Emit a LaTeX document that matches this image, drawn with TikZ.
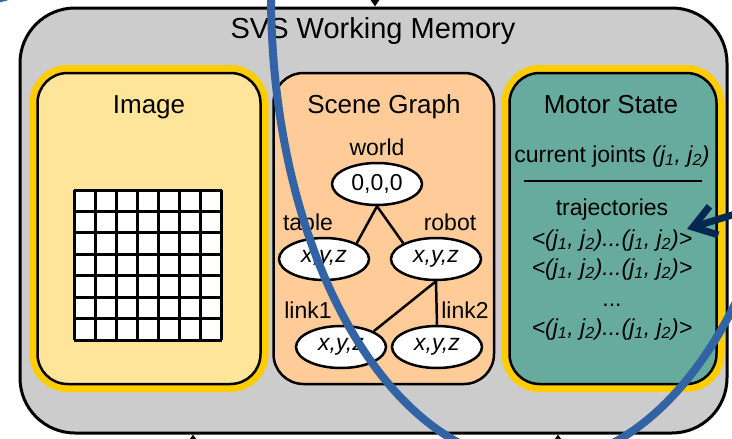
\documentclass[tikz,border=0pt]{standalone}
\usepackage{fontspec}
\setmainfont{Liberation Sans}
\usetikzlibrary{arrows.meta, shapes.geometric}

\definecolor{memgrey}{HTML}{CCCCCC}
\definecolor{imgfill}{HTML}{FFE599}
\definecolor{scenefill}{HTML}{FFCC99}
\definecolor{motorfill}{HTML}{67AB9F}
\definecolor{ringgold}{HTML}{FFCC00}
\definecolor{arcblue}{RGB}{49,99,165}
\definecolor{cmdnavy}{RGB}{4,40,80}

% italic joint pair (j1, j2)
\newcommand{\jpair}{\textit{(j\textsubscript{1}, j\textsubscript{2})}}

\begin{document}
\begin{tikzpicture}[x=1pt, y=-1pt,
  big/.style={font=\fontsize{29}{34}\selectfont},
  head/.style={font=\fontsize{26}{31}\selectfont},
  small/.style={font=\fontsize{23}{27}\selectfont},
  box/.style={draw, line width=2.5pt, rounded corners=30pt,
    minimum height=311pt, inner sep=0pt},
  haloed/.style={preaction={draw=ringgold, line width=16pt}},
  obj/.style={ellipse, draw, fill=white, line width=2.5pt, inner sep=0pt,
    minimum width=90pt, minimum height=42pt, small},
  edge/.style={line width=2.5pt}]
  \useasboundingbox (0,0) rectangle (732,439);

  % arrows into and out of working memory
  \coordinate (feed) at (375,-30);
  \coordinate (outa) at (193,470);
  \coordinate (outb) at (558,470);

  \node[draw, fill=memgrey, line width=3pt, rounded corners=55pt,
    minimum width=707pt, minimum height=425pt] (wm) at (373.5,220.5) {};
  \node[big, anchor=base] (wmtitle) at (373,38) {SVS Working Memory};

  \draw[line width=1.5pt, -{Triangle[length=7pt,width=9pt]}] (feed) -- (feed |- wm.north);
  \draw[line width=1.5pt, -{Triangle[length=7pt,width=9pt]}] (outa) -- (outa |- wm.south);
  \draw[line width=1.5pt, -{Triangle[length=7pt,width=9pt]}] (outb) -- (outb |- wm.south);

  % image buffer
  \node[box, haloed, fill=imgfill, minimum width=223pt] (image) at (149,228.5) {};
  \node[head, anchor=base] (imagetitle) at (149,113) {Image};
  \fill[white] (74,190) rectangle (222,340);
  \foreach \k in {0,...,7} {
    \draw[line width=3pt] ({74+\k*21.14},190) -- ({74+\k*21.14},340);
    \draw[line width=3pt] (74,{190+\k*21.43}) -- (222,{190+\k*21.43});
  }

  % scene graph
  \node[box, fill=scenefill, minimum width=220.5pt] (scene) at (383.75,228.5) {};
  \node[head, anchor=base] (scenetitle) at (384,113) {Scene Graph};

  \node[obj] (world) at (377,184) {0,0,0};
  \node[obj] (table) at (324,259) {\textit{x,y,z}};
  \node[obj] (robot) at (436,259) {\textit{x,y,z}};
  \node[obj] (link1) at (341,347) {\textit{x,y,z}};
  \node[obj] (link2) at (437,347) {\textit{x,y,z}};
  \node[small, anchor=base] (worldname) at (377,155) {world};
  \node[small, anchor=base] (tablename) at (308,230) {table};
  \node[small, anchor=base] (robotname) at (450,230) {robot};
  \node[small, anchor=base] (link1name) at (308,318) {link1};
  \node[small, anchor=base] (link2name) at (465,318) {link2};

  \draw[edge] (world.south) -- (table.north east);
  \draw[edge] (world.south) -- (robot.north west);
  \draw[edge] (robot.south) -- (link1.north east);
  \draw[edge] (robot.south) -- (link2.north);

  % motor state
  \node[box, haloed, fill=motorfill, minimum width=207pt] (motor) at (613,228.5) {};
  \node[head, anchor=base] (motortitle) at (611,113) {Motor State};
  \node[small, anchor=base] (joints) at (612,162) {current joints \jpair};
  \draw[line width=2.5pt] (524,181) -- (702,181);
  \node[small, anchor=base] (trajname) at (612,215) {trajectories};
  \node[small, anchor=base] (traj1) at (612,246) {\textit{<}\jpair\textit{...}\jpair\textit{>}};
  \node[small, anchor=base] (traj2) at (612,275) {\textit{<}\jpair\textit{...}\jpair\textit{>}};
  \node[small, anchor=base] (trajdots) at (612,306) {...};
  \node[small, anchor=base] (traj3) at (612,335) {\textit{<}\jpair\textit{...}\jpair\textit{>}};

  % overlay strokes
  \begin{scope}
    \clip (0,0) rectangle (732,439);
    \draw[arcblue, line width=8pt] (536,-5) ellipse [x radius=265, y radius=468];
    \draw[arcblue, line width=7pt] (-15,2) .. controls (0,-1) .. (30,-10);
    \coordinate (cmd) at (780,200);
    \coordinate (cmdtip) at (687,229);
    \draw[cmdnavy, line width=7pt, -{Straight Barb[length=22pt,width=30pt]}] (cmd) -- (cmdtip);
  \end{scope}
\end{tikzpicture}
\end{document}
